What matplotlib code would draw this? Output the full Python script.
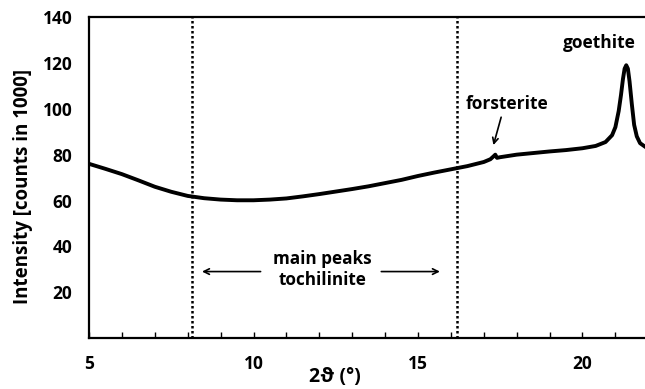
import matplotlib.pyplot as plt
from matplotlib.ticker import MultipleLocator

plt.rcParams['font.family'] = ['Open Sans', 'DejaVu Sans']
plt.rcParams['font.weight'] = 'bold'

# diffractogram (2theta in degrees, counts in 1000)
two_theta = [5.0, 5.5, 6.0, 6.5, 7.0, 7.5, 8.0, 8.5, 9.0, 9.5, 10.0, 10.5,
             11.0, 11.5, 12.0, 12.5, 13.0, 13.5, 14.0, 14.5, 15.0, 15.5,
             16.0, 16.5, 17.0, 17.2, 17.3, 17.35, 17.4, 17.5, 18.0, 18.5,
             19.0, 19.5, 20.0, 20.4, 20.7, 20.9, 21.0, 21.1, 21.17, 21.23,
             21.28, 21.33, 21.38, 21.43, 21.5, 21.57, 21.65, 21.75, 21.9]
intensity = [76.0, 73.8, 71.5, 68.8, 66.0, 63.8, 62.0, 61.0, 60.4, 60.1,
             60.1, 60.4, 60.9, 61.8, 62.8, 63.9, 65.0, 66.2, 67.6, 69.0,
             70.7, 72.2, 73.6, 75.0, 76.8, 78.0, 79.3, 80.0, 78.6, 78.9,
             80.0, 80.7, 81.4, 82.0, 82.8, 83.8, 85.5, 88.5, 92.0, 99.0,
             106.0, 113.0, 117.5, 119.0, 117.5, 112.0, 102.0, 93.0, 88.0,
             85.0, 83.5]

region_limits = [8.13, 16.2]
y_ticks = [20, 40, 60, 80, 100, 120, 140]
x_ticks = [5, 10, 15, 20]

fig = plt.figure(figsize=(6.45, 3.89), dpi=100)
ax = fig.add_axes([0.138, 0.131, 0.862, 0.825])

ax.plot(two_theta, intensity, color='black', lw=2.8, solid_joinstyle='round')

for x in region_limits:
    ax.axvline(x, color='black', lw=1.8, linestyle=(0, (1, 1)))

ax.set_xlim(5, 21.9)
ax.set_ylim(0, 140)
ax.set_xticks(x_ticks)
ax.xaxis.set_minor_locator(MultipleLocator(1))
ax.set_yticks(y_ticks)
ax.tick_params(axis='x', which='both', direction='in', length=4, width=1,
               labelsize=12.5, pad=12)
ax.tick_params(axis='y', length=0, labelsize=12.5, pad=12)

for side in ['left', 'bottom', 'top']:
    ax.spines[side].set_linewidth(1.6)
ax.spines['right'].set_visible(False)

# annotations
ax.text(12.1, 30, 'main peaks\ntochilinite', ha='center', va='center',
        fontsize=12.3, fontweight='bold', linespacing=1.2)
ax.annotate('', xy=(8.35, 29), xytext=(10.3, 29),
            arrowprops=dict(arrowstyle='->', lw=1.2, color='black'))
ax.annotate('', xy=(15.75, 29), xytext=(13.8, 29),
            arrowprops=dict(arrowstyle='->', lw=1.2, color='black'))
ax.text(17.7, 102, 'forsterite', ha='center', va='center', fontsize=12.5,
        fontweight='bold')
ax.annotate('', xy=(17.27, 83), xytext=(17.55, 97.5),
            arrowprops=dict(arrowstyle='->', lw=1.2, color='black'))
ax.text(20.5, 128.5, 'goethite', ha='center', va='center', fontsize=12.5,
        fontweight='bold')

fig.text(0.036, 0.52, 'Intensity [counts in 1000]', rotation=90,
         ha='center', va='center', fontsize=13.5, fontweight='bold')
fig.text(0.519, 0.031, '2ϑ (°)', ha='center', va='center', fontsize=14,
         fontweight='bold')

fig.savefig('out.png', dpi=100)
